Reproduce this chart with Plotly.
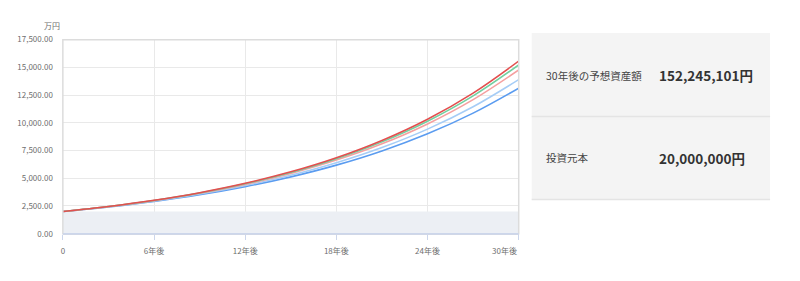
import plotly.graph_objects as go

years = [0, 3, 6, 9, 12, 15, 18, 21, 24, 27, 30]
principal = [2000] * 11
s_red = [2000, 2455.6, 3015.0, 3701.8, 4545.0, 5580.4, 6851.6, 8412.4, 10328.6, 12681.4, 15570.2]
s_green = [2000, 2450.1, 3001.5, 3676.9, 4504.4, 5518.1, 6759.9, 8281.1, 10144.7, 12427.7, 15224.5]
s_pink = [2000, 2442.6, 2983.1, 3643.3, 4449.5, 5434.1, 6636.7, 8105.2, 9899.0, 12089.6, 14765.0]
s_lblue = [2000, 2427.9, 2947.3, 3577.9, 4343.4, 5272.6, 6400.6, 7770.0, 9432.4, 11450.4, 13900.2]
s_blue = [2000, 2414.0, 2913.7, 3516.8, 4244.8, 5123.5, 6184.0, 7464.1, 9009.2, 10874.1, 13125.0]

x_ticks = [0, 6, 12, 18, 24, 30]
x_tick_labels = ["0", "6年後", "12年後", "18年後", "24年後", "30年後"]
y_ticks = [0, 2500, 5000, 7500, 10000, 12500, 15000, 17500]
y_unit = "万円"

panel_labels = ["30年後の予想資産額", "投資元本"]
panel_values = ["152,245,101円", "20,000,000円"]

W, H = 800, 281
FONT = "Noto Sans CJK JP"
TICKC = "#6e6e6e"

def px(x):
    return x / W

def py(y):
    return 1 - y / H

fig = go.Figure()
fig.add_trace(go.Scatter(x=years, y=principal, mode="lines", fill="tozeroy",
                         fillcolor="#eceff4", line=dict(width=0), hoverinfo="skip"))
series = [
    (s_blue, "#5b9cf0"),
    (s_lblue, "#a6cdf6"),
    (s_pink, "#f5a0a0"),
    (s_green, "#72d0a0"),
    (s_red, "#e34f4f"),
]
for vals, col in series:
    fig.add_trace(go.Scatter(x=years, y=vals, mode="lines",
                             line=dict(color=col, width=1.6, shape="spline")))

# last x tick label is drawn right-aligned to the plot edge (as in the reference)
tick_text = x_tick_labels[:-1] + [""]

fig.update_layout(
    width=W, height=H,
    margin=dict(l=0, r=0, t=0, b=0),
    paper_bgcolor="white", plot_bgcolor="white",
    showlegend=False,
    font=dict(family=FONT, color=TICKC, size=8),
    xaxis=dict(domain=[px(61), px(518)], range=[0, 30], tickvals=x_ticks, ticktext=tick_text,
               showgrid=True, gridcolor="#e9e9e9", gridwidth=1, zeroline=False,
               showline=True, linecolor="#ccd6eb", linewidth=1,
               ticks="outside", ticklen=5, tickcolor="#ccd6eb", ticklabelstandoff=5,
               tickfont=dict(size=8, color=TICKC)),
    yaxis=dict(domain=[py(237), py(35)], range=[0, 17500], tickvals=y_ticks, tickformat=",.2f",
               showgrid=True, gridcolor="#e9e9e9", gridwidth=1, zeroline=False,
               showline=False, ticks="", ticklabelstandoff=9,
               tickfont=dict(size=8, color=TICKC)),
    shapes=[
        dict(type="rect", xref="paper", yref="paper", x0=px(61), x1=px(518), y0=py(237), y1=py(35),
             line=dict(color="#dcdcdc", width=1.5), layer="above"),
        dict(type="line", xref="paper", yref="paper", x0=px(61), x1=px(518), y0=py(237), y1=py(237),
             line=dict(color="#ccd6eb", width=1.5), layer="above"),
        dict(type="rect", xref="paper", yref="paper", x0=px(531), x1=px(770), y0=py(201), y1=py(28),
             fillcolor="#f4f4f4", line=dict(width=0), layer="below"),
        dict(type="line", xref="paper", yref="paper", x0=px(531), x1=px(770), y0=py(115), y1=py(115),
             line=dict(color="#e4e4e4", width=1.5)),
        dict(type="line", xref="paper", yref="paper", x0=px(531), x1=px(770), y0=py(201.5), y1=py(201.5),
             line=dict(color="#e4e4e4", width=1.5)),
    ],
)

annotations = [
    dict(text=y_unit, x=px(60), y=py(20), xref="paper", yref="paper", xanchor="right", yanchor="middle",
         showarrow=False, font=dict(size=8, color=TICKC, family=FONT)),
    dict(text=x_tick_labels[-1], x=x_ticks[-1], y=py(254.5), xref="x", yref="paper",
         xanchor="right", yanchor="middle", showarrow=False,
         font=dict(size=8, color=TICKC, family=FONT)),
]
for i, (lab, val) in enumerate(zip(panel_labels, panel_values)):
    yc = [72, 158][i]
    annotations.append(dict(text=lab, x=px(543), y=py(yc), xref="paper", yref="paper",
                            xanchor="left", yanchor="middle", showarrow=False,
                            font=dict(size=10.5, color="#444444", family=FONT)))
    annotations.append(dict(text="<b>" + val + "</b>", x=px(657), y=py(yc), xref="paper", yref="paper",
                            xanchor="left", yanchor="middle", showarrow=False,
                            font=dict(size=13.5, color="#333333", family=FONT)))
fig.update_layout(annotations=annotations)

fig.write_html("out.html")
